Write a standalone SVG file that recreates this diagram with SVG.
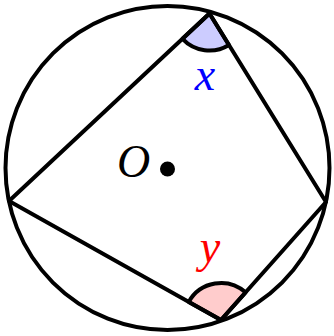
<svg xmlns="http://www.w3.org/2000/svg" width="334" height="336" viewBox="0 0 334 336">
<style>
.ln{fill:none;stroke:#000;stroke-width:4;stroke-linecap:round;stroke-linejoin:round}
.ang{stroke:#000;stroke-width:4;stroke-linejoin:round}
.lbl{font-family:"Liberation Serif","Times New Roman",serif;font-style:italic;font-size:46px}
</style>
<rect width="334" height="336" fill="#fff"/>
<g id="circle"><circle class="ln" cx="167.5" cy="168" r="162"/></g>
<g id="angle-x"><path class="ang" fill="#ccccff" d="M209.5,13.5 L182.5,38.8 A37,37 0 0 0 228.95,44.97 Z"/></g>
<g id="angle-y"><path class="ang" fill="#ffcccc" d="M221,320 L188.74,301.89 A37,37 0 0 1 245.6,292.36 Z"/></g>
<g id="connectors">
<path class="ln" d="M209.5,13.5 L326,202 L221,320 L9,201 Z"/>
</g>
<g id="center-O">
<circle cx="167.5" cy="169" r="7.5" fill="#000"/>
<text class="lbl" x="117" y="177" fill="#000">O</text>
</g>
<g id="label-x"><text class="lbl" x="205" y="90" fill="#0000ff" text-anchor="middle">x</text></g>
<g id="label-y"><text class="lbl" x="210" y="262" fill="#ff0000" text-anchor="middle">y</text></g>
</svg>
